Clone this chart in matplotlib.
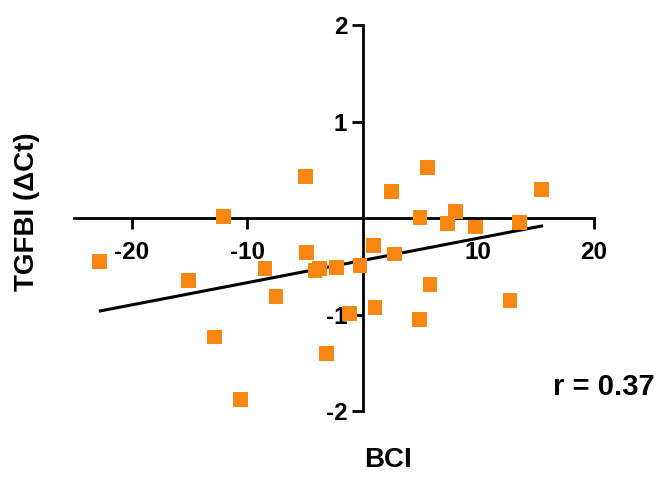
import matplotlib
matplotlib.use('Agg')
import matplotlib.pyplot as plt
import numpy as np

# BCI vs TGFBI delta Ct
bci = [-4.95, 2.53, 5.64, 15.5, -12.05, 4.98, 7.37, 8.07, 9.8, 13.6,
       -22.8, -15.1, -8.44, -7.49, -4.83, -4.11, -3.74, -2.29, -0.22, 0.94,
       2.75, 5.84, 12.77, 1.08, -1.14, 4.92, -12.8, -3.1, -10.6]
dct = [0.43, 0.28, 0.53, 0.30, 0.02, 0.01, -0.05, 0.07, -0.09, -0.04,
       -0.45, -0.64, -0.52, -0.81, -0.35, -0.54, -0.52, -0.51, -0.49, -0.28,
       -0.37, -0.69, -0.85, -0.92, -0.99, -1.05, -1.23, -1.40, -1.88]

# regression line end points
fit_x = [-22.7, 15.5]
fit_y = [-0.96, -0.08]

xticks = [-20, -10, 10, 20]
yticks = [-2, -1, 1, 2]

plt.rcParams['font.family'] = ['Liberation Sans', 'DejaVu Sans']
plt.rcParams['font.weight'] = 'bold'
plt.rcParams['axes.unicode_minus'] = False

fig = plt.figure(figsize=(6.65, 4.82), dpi=100)
ax = fig.add_axes([0.1109, 0.1467, 0.7816, 0.8008])

ax.plot(fit_x, fit_y, color='black', lw=2.2, zorder=2)
ax.scatter(bci, dct, marker='s', s=115, color='#F98610', edgecolors='none', zorder=3)

ax.set_xlim(-25, 20)
ax.set_ylim(-2, 2)

# axes crossing at the origin
ax.spines['left'].set_position(('data', 0))
ax.spines['bottom'].set_position(('data', 0))
ax.spines['right'].set_visible(False)
ax.spines['top'].set_visible(False)
for s in ['left', 'bottom']:
    ax.spines[s].set_linewidth(2.0)

ax.set_xticks(xticks)
ax.set_yticks(yticks)
ax.tick_params(axis='x', direction='out', length=8, width=2.0, pad=8, labelsize=17.5)
ax.tick_params(axis='y', direction='out', length=8, width=2.0, pad=3, labelsize=17.5)
for lab in ax.get_xticklabels() + ax.get_yticklabels():
    lab.set_fontweight('bold')

fig.text(0.041, 0.56, 'TGFBI (\u0394Ct)', rotation=90, ha='center', va='center',
         fontsize=20, fontweight='bold')
fig.text(0.583, 0.018, 'BCI', ha='center', va='bottom', fontsize=20, fontweight='bold')
fig.text(0.985, 0.198, 'r = 0.37', ha='right', va='center',
         fontsize=21, fontweight='bold')

plt.savefig('out.png', dpi=100)
